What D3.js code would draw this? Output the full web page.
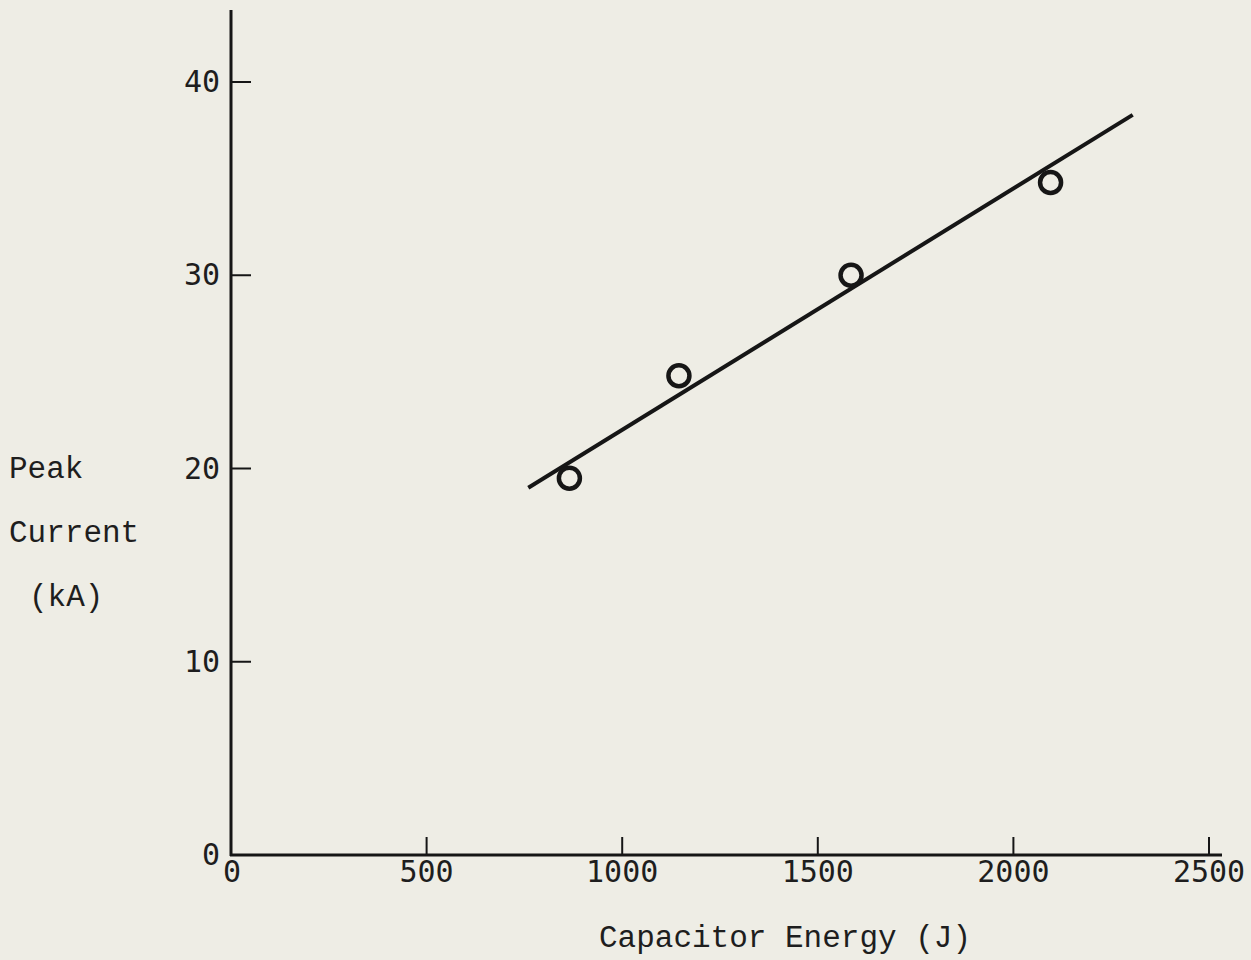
<!DOCTYPE html>
<html lang="en">
<head>
    <meta charset="UTF-8">
    <title>Peak Current vs Capacitor Energy</title>
    <style>
        body { margin: 0; background: #eeede5; }
        svg { display: block; }
        .tick-label { font-family: "DejaVu Sans Mono", monospace; font-size: 30px; fill: #1e1e1e; }
        .axis-title { font-family: "Liberation Mono", "DejaVu Sans Mono", monospace; font-size: 31px; fill: #1e1e1e; }
    </style>
    <script src="https://d3js.org/d3.v7.min.js"></script>
</head>
<body>
    <svg width="1251" height="960"></svg>
    <script>
        // Data
        const energy = [865, 1145, 1585, 2095];
        const current = [19.5, 24.8, 30.0, 34.8];

        // Fitted line end points
        const fitEnergy = [760, 2305];
        const fitCurrent = [19.0, 38.3];

        const xTicks = [0, 500, 1000, 1500, 2000, 2500];
        const yTicks = [0, 10, 20, 30, 40];

        const width = 1251;
        const height = 960;
        const ink = "#161616";
        const paper = "#eeede5";

        const svg = d3.select("svg")
            .attr("width", width)
            .attr("height", height);

        const x = d3.scaleLinear().domain([0, 2500]).range([231, 1209]);
        const y = d3.scaleLinear().domain([0, 40]).range([855, 82]);

        // Axis lines
        svg.append("line")
            .attr("x1", x(0)).attr("x2", x(0))
            .attr("y1", 10).attr("y2", y(0) + 1)
            .attr("stroke", ink).attr("stroke-width", 3);

        svg.append("line")
            .attr("x1", x(0) - 1).attr("x2", 1222)
            .attr("y1", y(0)).attr("y2", y(0))
            .attr("stroke", ink).attr("stroke-width", 3);

        // Y ticks (pointing inward)
        svg.selectAll(".ytick")
            .data(yTicks.filter(d => d > 0))
            .enter().append("line")
            .attr("x1", x(0)).attr("x2", x(0) + 20)
            .attr("y1", d => y(d)).attr("y2", d => y(d))
            .attr("stroke", ink).attr("stroke-width", 2);

        svg.selectAll(".ylab")
            .data(yTicks)
            .enter().append("text")
            .attr("class", "tick-label")
            .attr("x", x(0) - 11)
            .attr("y", d => y(d) + 10)
            .attr("text-anchor", "end")
            .text(d => d);

        // X ticks (pointing up)
        svg.selectAll(".xtick")
            .data(xTicks.filter(d => d > 0))
            .enter().append("line")
            .attr("x1", d => x(d)).attr("x2", d => x(d))
            .attr("y1", y(0)).attr("y2", y(0) - 18)
            .attr("stroke", ink).attr("stroke-width", 2);

        svg.selectAll(".xlab")
            .data(xTicks)
            .enter().append("text")
            .attr("class", "tick-label")
            .attr("x", d => x(d) + (d === 0 ? 1 : 0))
            .attr("y", y(0) + 27)
            .attr("text-anchor", "middle")
            .text(d => d);

        // Fitted line
        svg.append("line")
            .attr("x1", x(fitEnergy[0])).attr("y1", y(fitCurrent[0]))
            .attr("x2", x(fitEnergy[1])).attr("y2", y(fitCurrent[1]))
            .attr("stroke", ink).attr("stroke-width", 4);

        // Data points (open circles)
        svg.selectAll(".pt")
            .data(energy.map((e, i) => ({ e, c: current[i] })))
            .enter().append("circle")
            .attr("cx", d => x(d.e))
            .attr("cy", d => y(d.c))
            .attr("r", 10.5)
            .attr("fill", paper)
            .attr("stroke", ink)
            .attr("stroke-width", 4.5);

        // Axis titles
        const yTitle = ["Peak", "Current", "(kA)"];
        svg.selectAll(".ytitle")
            .data(yTitle)
            .enter().append("text")
            .attr("class", "axis-title")
            .attr("x", (d, i) => i === 2 ? 29 : 9)
            .attr("y", (d, i) => 478 + i * 64)
            .text(d => d);

        svg.append("text")
            .attr("class", "axis-title")
            .attr("x", 785)
            .attr("y", 947)
            .attr("text-anchor", "middle")
            .text("Capacitor Energy (J)");
    </script>
</body>
</html>
